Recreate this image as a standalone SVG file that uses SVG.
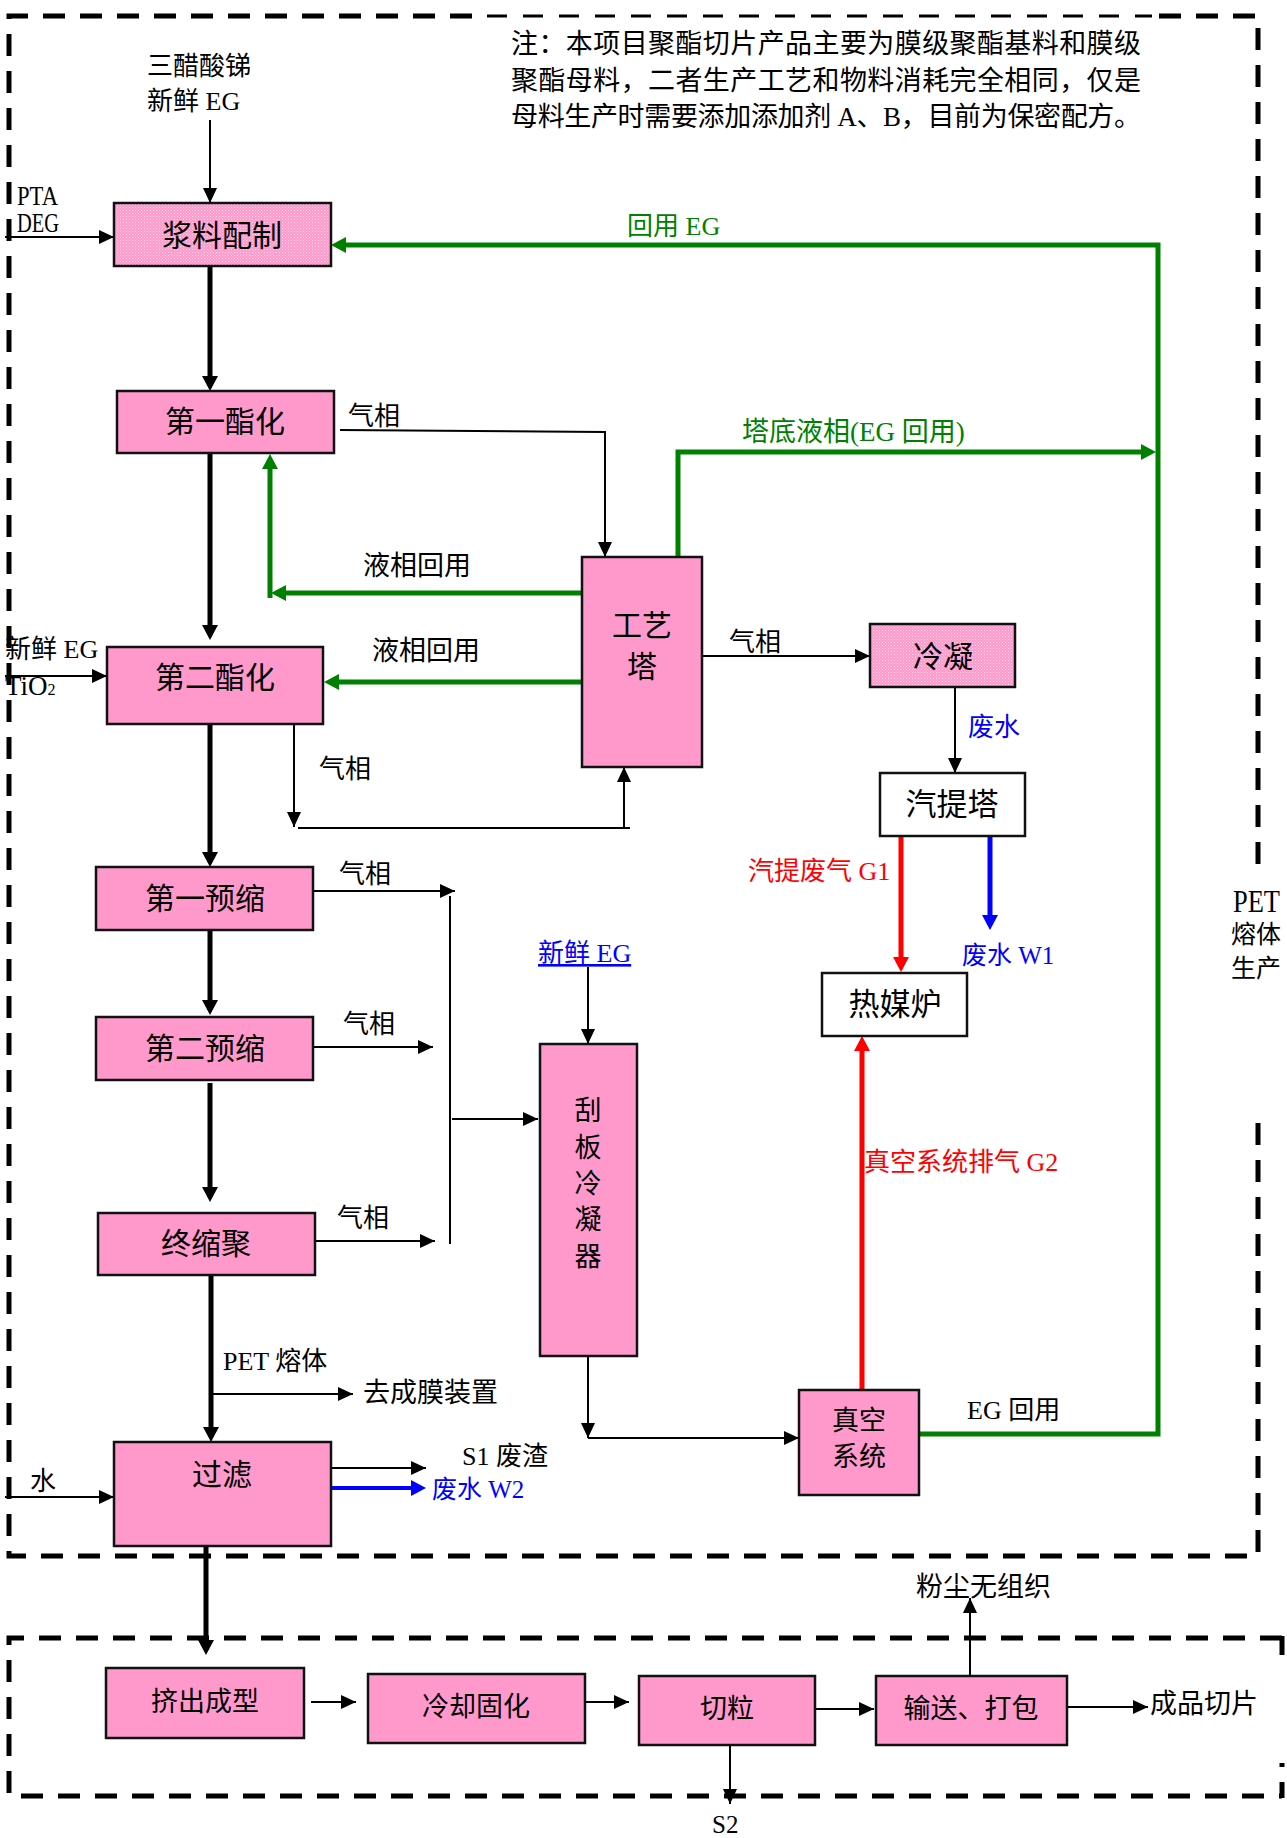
<svg xmlns="http://www.w3.org/2000/svg" width="1287" height="1838" viewBox="0 0 1287 1838" font-size="26">
<defs>
<style>
.t{font-family:'Liberation Serif','Noto Sans CJK SC',serif;fill:#000}
.m{text-anchor:middle}
.box{stroke:#111;stroke-width:2.5}
.pink{fill:#FF99CC}
.dot{fill:url(#dots)}
.white{fill:#fff}
.dash{fill:none;stroke:#000;stroke-width:5;stroke-dasharray:22 15}
.tdash{fill:none;stroke:#000;stroke-width:3;stroke-dasharray:20 16}
.c{fill:none;stroke:#000;stroke-width:2}
.ck{fill:none;stroke:#000;stroke-width:5}
.g{fill:none;stroke:#008000;stroke-width:5}
.r{fill:none;stroke:#FF0000;stroke-width:5}
.b{fill:none;stroke:#0000FF;stroke-width:5}
.gt{fill:#008000}
.rt{fill:#FF0000}
.bt{fill:#0000FF}
</style>
<pattern id="dots" width="3" height="3" patternUnits="userSpaceOnUse">
<rect width="3" height="3" fill="#FF99CC"/>
<rect width="1" height="1" fill="#FFE0EE"/>
<rect x="1.5" y="1.5" width="1" height="1" fill="#FFC2DF"/>
</pattern>
<marker id="ak" markerWidth="15" markerHeight="14" refX="15" refY="7" orient="auto" markerUnits="userSpaceOnUse"><path d="M0,0 L15,7 L0,14 z" fill="#000"/></marker>
<marker id="akb" markerWidth="15" markerHeight="16" refX="10" refY="8" orient="auto" markerUnits="userSpaceOnUse"><path d="M0,0 L15,8 L0,16 z" fill="#000"/></marker>
<marker id="ag" markerWidth="15" markerHeight="16" refX="10" refY="8" orient="auto" markerUnits="userSpaceOnUse"><path d="M0,0 L15,8 L0,16 z" fill="#008000"/></marker>
<marker id="ar" markerWidth="15" markerHeight="16" refX="10" refY="8" orient="auto" markerUnits="userSpaceOnUse"><path d="M0,0 L15,8 L0,16 z" fill="#FF0000"/></marker>
<marker id="ab" markerWidth="15" markerHeight="16" refX="10" refY="8" orient="auto" markerUnits="userSpaceOnUse"><path d="M0,0 L15,8 L0,16 z" fill="#0000FF"/></marker>
</defs>
<rect width="1287" height="1838" fill="#fff"/>

<g id="boundaries">
<path class="dash" d="M472,16 H9 V1556 H1258 V1112"/>
<path class="dash" d="M1159,16 H1258 V868"/>
<path class="tdash" d="M487,16 H1152"/>
<path class="dash" d="M1282,1638 H9 V1796 H1282"/>
<path d="M1282,1636 V1655 M1282,1763 V1767 M1282,1782 V1798" stroke="#000" stroke-width="5" fill="none"/>
</g>

<g id="note">
<text class="t" font-size="27" x="511" y="53" textLength="630" lengthAdjust="spacing">注：本项目聚酯切片产品主要为膜级聚酯基料和膜级</text>
<text class="t" font-size="27" x="511" y="90" textLength="630" lengthAdjust="spacing">聚酯母料，二者生产工艺和物料消耗完全相同，仅是</text>
<text class="t" font-size="27" x="511" y="126" textLength="630" lengthAdjust="spacing">母料生产时需要添加添加剂 A、B，目前为保密配方。</text>
</g>

<g id="connectors">
<path class="c" d="M210,120 V203" marker-end="url(#ak)"/>
<path class="c" d="M5,237 H114" marker-end="url(#ak)"/>
<path class="ck" d="M210,266 V386" marker-end="url(#akb)"/>
<path class="g" d="M919,1434 H1158 V245 H336" marker-end="url(#ag)"/>
<path class="c" d="M340,430 L605,432 V557" marker-end="url(#ak)"/>
<path class="g" d="M582,593 H276" marker-end="url(#ag)"/>
<path class="g" d="M270,598 V459" marker-end="url(#ag)"/>
<path class="g" d="M582,682 H329" marker-end="url(#ag)"/>
<path class="ck" d="M210,454 V635" marker-end="url(#akb)"/>
<path class="c" d="M5,676 H107" marker-end="url(#ak)"/>
<path class="c" d="M702,656 H870" marker-end="url(#ak)"/>
<path class="g" d="M678,557 V452 H1151" marker-end="url(#ag)"/>
<path class="c" d="M294,724 V827" marker-end="url(#ak)"/>
<path class="c" d="M298,828 H630"/>
<path class="c" d="M624,828 V767" marker-end="url(#ak)"/>
<path class="ck" d="M210,724 V862" marker-end="url(#akb)"/>
<path class="c" d="M955,687 V773" marker-end="url(#ak)"/>
<path class="r" d="M901,836 V967" marker-end="url(#ar)"/>
<path class="b" d="M990,836 V925" marker-end="url(#ab)"/>
<path class="c" d="M313,891 H455" marker-end="url(#ak)"/>
<path class="c" d="M450,896 V1244"/>
<path class="c" d="M452,1119 H538" marker-end="url(#ak)"/>
<path class="c" d="M313,1047 H433" marker-end="url(#ak)"/>
<path class="c" d="M315,1241 H435" marker-end="url(#ak)"/>
<path class="ck" d="M210,930 V1010" marker-end="url(#akb)"/>
<path class="ck" d="M210,1083 V1197" marker-end="url(#akb)"/>
<path class="c" d="M588,967 V1044" marker-end="url(#ak)"/>
<path class="c" d="M588,1356 V1438" marker-end="url(#ak)"/>
<path class="c" d="M588,1438 H799" marker-end="url(#ak)"/>
<path class="r" d="M862,1390 V1041" marker-end="url(#ar)"/>
<path class="ck" d="M211,1275 V1437" marker-end="url(#akb)"/>
<path class="c" d="M212,1394 H353" marker-end="url(#ak)"/>
<path class="c" d="M5,1497 H114" marker-end="url(#ak)"/>
<path class="c" d="M331,1468 H426" marker-end="url(#ak)"/>
<path class="b" style="stroke-width:4" d="M331,1488 H421" marker-end="url(#ab)"/>
<path class="ck" d="M206,1546 V1650" marker-end="url(#akb)"/>
<path class="c" d="M311,1702 H356" marker-end="url(#ak)"/>
<path class="c" d="M585,1702 H629" marker-end="url(#ak)"/>
<path class="c" d="M815,1709 H874" marker-end="url(#ak)"/>
<path class="c" d="M970,1676 V1598" marker-end="url(#ak)"/>
<path class="c" d="M1067,1707 H1148" marker-end="url(#ak)"/>
<path class="c" d="M730,1745 V1804" marker-end="url(#ak)"/>
</g>

<g id="labels">
<text class="t" x="147" y="75">三醋酸锑</text>
<text class="t" x="147" y="110">新鲜 EG</text>
<text class="t" font-size="27" x="17" y="205" textLength="41" lengthAdjust="spacingAndGlyphs">PTA</text>
<text class="t" font-size="27" x="17" y="232" textLength="42" lengthAdjust="spacingAndGlyphs">DEG</text>
<text class="t gt" x="627" y="235">回用 EG</text>
<text class="t" x="348" y="425">气相</text>
<text class="t gt" font-size="27" x="742" y="441">塔底液相(EG 回用)</text>
<text class="t" font-size="27" x="363" y="575">液相回用</text>
<text class="t" font-size="27" x="372" y="660">液相回用</text>
<text class="t" x="5" y="658">新鲜 EG</text>
<text class="t" font-size="27" x="5" y="695">TiO<tspan font-size="16">2</tspan></text>
<text class="t" x="319" y="778">气相</text>
<text class="t" x="729" y="651">气相</text>
<text class="t bt" x="968" y="736">废水</text>
<text class="t rt" x="748" y="880">汽提废气 G1</text>
<text class="t bt" font-size="25" x="962" y="964">废水 W1</text>
<text class="t bt" x="538" y="962" text-decoration="underline">新鲜 EG</text>
<text class="t" x="339" y="883">气相</text>
<text class="t" x="343" y="1033">气相</text>
<text class="t" x="337" y="1227">气相</text>
<text class="t rt" x="864" y="1171">真空系统排气 G2</text>
<text class="t" x="967" y="1419">EG 回用</text>
<text class="t" x="223" y="1370">PET 熔体</text>
<text class="t" font-size="27" x="363" y="1402">去成膜装置</text>
<text class="t" x="30" y="1490">水</text>
<text class="t" x="462" y="1465">S1 废渣</text>
<text class="t bt" font-size="25" x="432" y="1498">废水 W2</text>
<text class="t" font-size="32" x="1233" y="912" textLength="47" lengthAdjust="spacingAndGlyphs">PET</text>
<text class="t" font-size="25" x="1231" y="943">熔体</text>
<text class="t" font-size="25" x="1231" y="977">生产</text>
<text class="t" font-size="27" x="916" y="1596">粉尘无组织</text>
<text class="t" font-size="27" x="1150" y="1713">成品切片</text>
<text class="t" font-size="25" x="712" y="1833">S2</text>
</g>

<g id="n-jiangliao"><rect class="box dot" x="114" y="203" width="217" height="63"/><text class="t m" font-size="30" x="222" y="246">浆料配制</text></g>
<g id="n-zhihua1"><rect class="box pink" x="117" y="391" width="217" height="62"/><text class="t m" font-size="30" x="225" y="432">第一酯化</text></g>
<g id="n-zhihua2"><rect class="box pink" x="107" y="647" width="216" height="77"/><text class="t m" font-size="30" x="215" y="688">第二酯化</text></g>
<g id="n-gongyita"><rect class="box pink" x="582" y="557" width="120" height="210"/><text class="t m" font-size="30" x="642" y="636">工艺</text><text class="t m" font-size="30" x="642" y="677">塔</text></g>
<g id="n-lengning"><rect class="box dot" x="870" y="624" width="145" height="63"/><text class="t m" font-size="30" x="943" y="667">冷凝</text></g>
<g id="n-qitita"><rect class="box white" x="880" y="773" width="145" height="63"/><text class="t m" font-size="31" x="952" y="815">汽提塔</text></g>
<g id="n-remeilu"><rect class="box white" x="822" y="973" width="145" height="63"/><text class="t m" font-size="31" x="895" y="1015">热媒炉</text></g>
<g id="n-yusuo1"><rect class="box pink" x="96" y="867" width="217" height="63"/><text class="t m" font-size="30" x="205" y="909">第一预缩</text></g>
<g id="n-yusuo2"><rect class="box pink" x="96" y="1017" width="217" height="63"/><text class="t m" font-size="30" x="205" y="1059">第二预缩</text></g>
<g id="n-zhongsuoju"><rect class="box pink" x="98" y="1213" width="217" height="62"/><text class="t m" font-size="30" x="206" y="1254">终缩聚</text></g>
<g id="n-guaban"><rect class="box pink" x="540" y="1044" width="97" height="312"/><text class="t m" font-size="27" x="588" y="1120">刮<tspan x="588" dy="37">板</tspan><tspan x="588" dy="36">冷</tspan><tspan x="588" dy="36">凝</tspan><tspan x="588" dy="37">器</tspan></text></g>
<g id="n-zhenkong"><rect class="box pink" x="799" y="1390" width="120" height="105"/><text class="t m" font-size="27" x="859" y="1430">真空</text><text class="t m" font-size="27" x="859" y="1466">系统</text></g>
<g id="n-guolv"><rect class="box pink" x="114" y="1442" width="217" height="104"/><text class="t m" font-size="30" x="222" y="1485">过滤</text></g>
<g id="n-jichu"><rect class="box pink" x="106" y="1668" width="198" height="70"/><text class="t m" font-size="27" x="205" y="1711">挤出成型</text></g>
<g id="n-lengque"><rect class="box pink" x="368" y="1674" width="217" height="69"/><text class="t m" font-size="27" x="476" y="1716">冷却固化</text></g>
<g id="n-qieli"><rect class="box pink" x="639" y="1676" width="176" height="69"/><text class="t m" font-size="27" x="727" y="1718">切粒</text></g>
<g id="n-shusong"><rect class="box pink" x="876" y="1676" width="191" height="69"/><text class="t m" font-size="27" x="971" y="1718">输送、打包</text></g>
</svg>
